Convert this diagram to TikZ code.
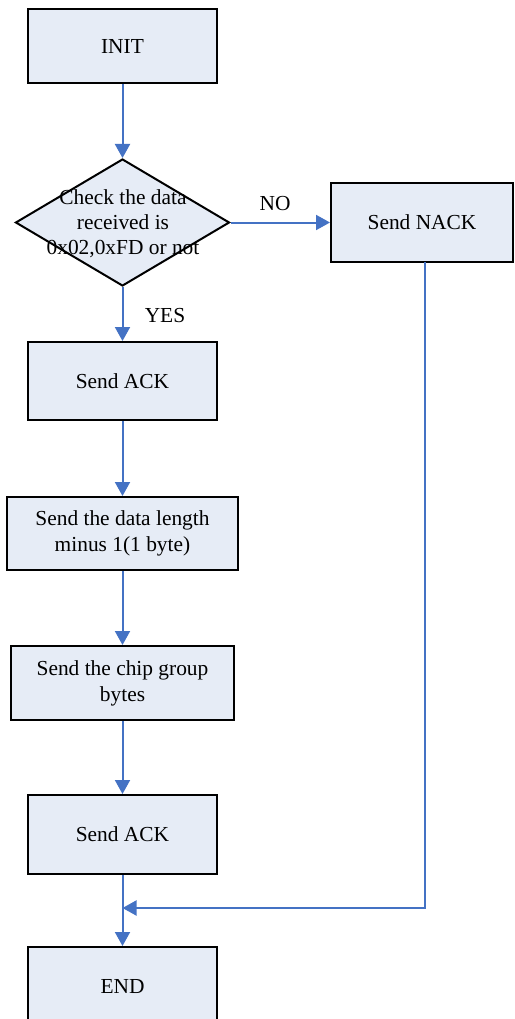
\documentclass[tikz,border=0pt]{standalone}
\usepackage{fontspec}
\setmainfont{Liberation Serif}
\usetikzlibrary{shapes.geometric,arrows.meta}
\definecolor{boxfill}{RGB}{230,236,246}
\definecolor{flowblue}{RGB}{68,114,196}
\tikzset{
  stepbox/.style={draw=black, line width=2pt, fill=boxfill, inner sep=0pt,
    align=center, font=\fontsize{21.4}{26}\selectfont},
  decision/.style={diamond, draw=black, line width=2pt, fill=boxfill, inner sep=0pt},
  flow/.style={draw=flowblue, line width=2pt,
    -{Triangle[length=14pt,width=15pt]}},
  lbl/.style={font=\fontsize{21.4}{25}\selectfont, inner sep=0pt}
}
\begin{document}
\begin{tikzpicture}[x=1pt,y=-1pt]
\useasboundingbox (0,0) rectangle (514,1019);
\begin{scope}
\clip (0,0) rectangle (514,1019);
% process boxes
\node[stepbox, minimum width=189pt, minimum height=74pt] (init) at (122.5,46) {INIT};
\node[decision, minimum width=214pt, minimum height=127pt] (check) at (122.5,222.5) {};
\node[align=center, font=\fontsize{21.4}{25}\selectfont, inner sep=0pt] (checktxt) at (123,224) {Check the data\\received is\\0x02,0xFD or not};
\node[stepbox, minimum width=182pt, minimum height=79pt] (nack) at (422,222.5) {Send NACK};
\node[stepbox, minimum width=189pt, minimum height=78pt] (ack1) at (122.5,381) {Send ACK};
\node[stepbox, minimum width=231pt, minimum height=73pt] (len) at (122.5,533.5) {Send the data length\\minus 1(1 byte)};
\node[stepbox, minimum width=223pt, minimum height=74pt] (chip) at (122.5,683) {Send the chip group\\bytes};
\node[stepbox, minimum width=189pt, minimum height=79pt] (ack2) at (122.5,834.5) {Send ACK};
\node[stepbox, minimum width=189pt, minimum height=80pt] (fin) at (122.5,987) {END};
% connectors
\draw[flow] (init.south) -- (check.north);
\draw[flow] (check.east) -- (nack.west);
\draw[flow] (check.south) -- (ack1.north);
\draw[flow] (ack1.south) -- (len.north);
\draw[flow] (len.south) -- (chip.north);
\draw[flow] (chip.south) -- (ack2.north);
\draw[flow] (ack2.south) -- (fin.north);
% NACK path rejoins the main line above END
\coordinate (nackdown) at (425,262);
\coordinate (nackturn) at (425,908);
\coordinate (joinpt) at (122.5,908);
\draw[flow] (nackdown) -- (nackturn) -- (joinpt);
% branch labels
\node[lbl] (nolbl) at (275,204) {NO};
\node[lbl] (yeslbl) at (165,316) {YES};
\end{scope}
\end{tikzpicture}
\end{document}
